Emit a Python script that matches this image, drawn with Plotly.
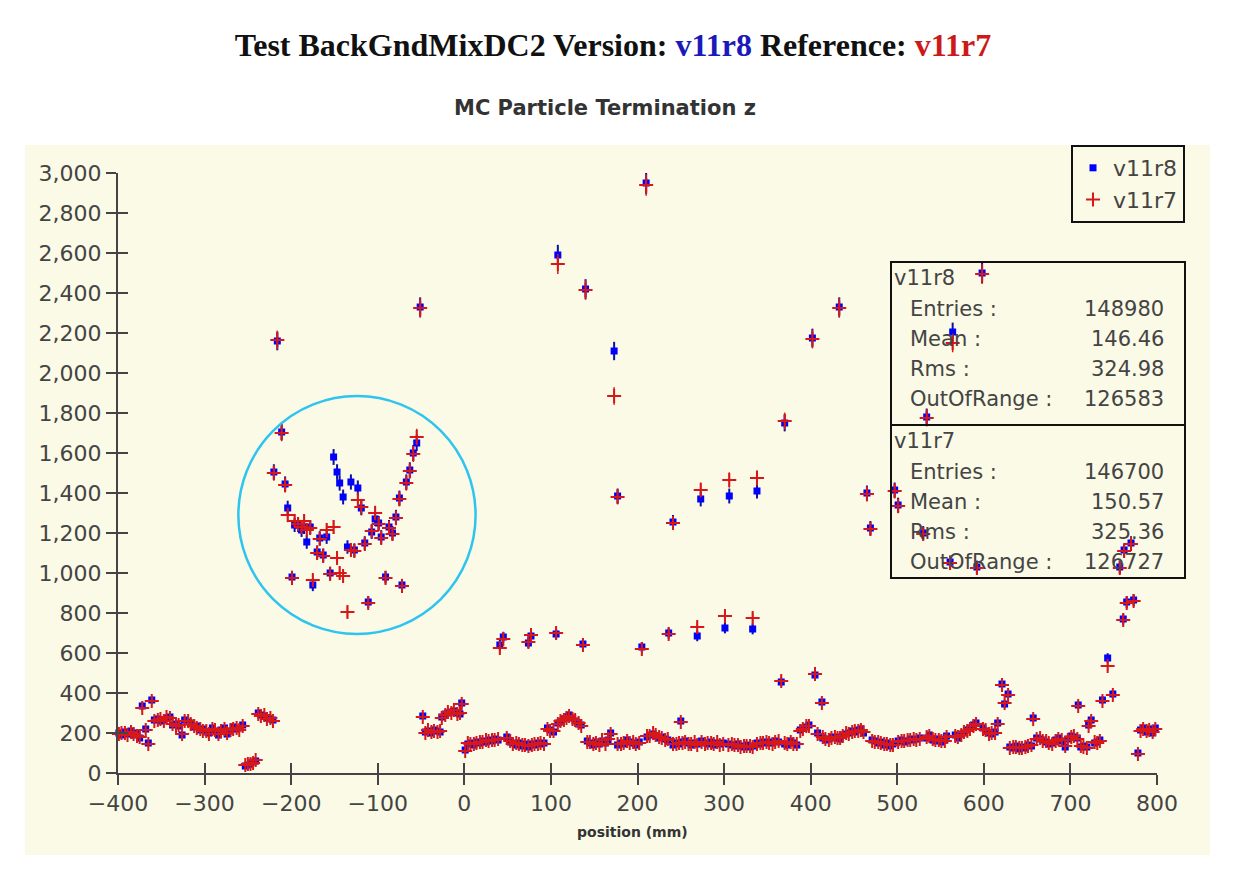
import plotly.graph_objects as go

# bottom band of bins: position (mm), counts for v11r8 / v11r7
band_pos = [
    -399, -396, -392, -389, -385, -382, -378, -375, -372, -368, -365, -361, -358, -354,
    -351, -347, -344, -340, -337, -333, -330, -326, -323, -319, -316, -312, -309, -305,
    -302, -298, -295, -291, -288, -284, -281, -277, -274, -270, -267, -263, -260, -256,
    -253, -250, -247, -244, -241, -238, -235, -231, -228, -224, -221,
    -48, -45, -42, -38, -35, -31, -28, -26, -22, -19, -15, -12, -8, -5, -3, 1,
    4, 7, 11, 14, 18, 21, 25, 28, 32, 35, 39, 49, 53, 56, 60, 63, 67, 70, 74, 78, 81, 85,
    88, 92, 96, 99, 103, 108, 111, 115, 118, 121, 125, 128, 132, 135, 142, 145, 149, 152,
    156, 159, 163, 166, 169, 177, 181, 184, 188, 191, 195, 198, 202, 211, 214, 218, 221,
    225, 228, 232, 235, 241, 245, 248, 250, 252, 255, 259, 262, 266, 269, 274, 278, 281,
    285, 288, 292, 295, 299, 305, 309, 312, 316, 319, 323, 326, 330, 333, 338, 342, 345,
    349, 352, 356, 359, 363, 370, 373, 377, 380, 384, 388, 391, 395, 398, 408, 414, 417,
    421, 424, 428, 431, 434, 437, 441, 444, 448, 451, 455, 458, 461, 471, 474, 478, 481,
    485, 488, 492, 495, 501, 505, 508, 512, 515, 519, 522, 526, 534, 537, 541, 544, 548,
    551, 555, 557, 567, 570, 574, 577, 581, 584, 588, 591, 599, 602, 606, 609, 613, 616,
    630, 634, 637, 641, 644, 648, 651, 655, 657, 661, 665, 668, 672, 675, 679, 683, 686,
    690, 694, 697, 701, 704, 708, 712, 715, 719, 721, 724, 728, 731, 734, 778, 781, 784,
    788, 791, 795, 798,
]
band_v11r8 = [
    200, 190, 205, 195, 210, 190, 200, 175, 335, 220, 150, 365, 265, 270,
    260, 265, 275, 280, 240, 245, 235, 190, 265, 255, 250, 230, 235, 215,
    220, 205, 200, 225, 210, 190, 215, 225, 195, 210, 230, 220, 225, 240,
    35, 40, 45, 55, 60, 300, 290, 285, 275, 270, 265,
    285, 205, 210, 200, 215, 210, 205, 280, 295, 300, 305, 310, 300, 295, 350, 115,
    145, 150, 140, 155, 150, 160, 155, 165, 160, 170, 165, 180, 155, 150, 140, 150, 135, 145, 130, 145, 140, 150,
    145, 150, 225, 215, 205, 250, 255, 270, 280, 290, 275, 260, 245, 240, 160, 150, 140, 155,
    145, 160, 150, 165, 200, 140, 150, 145, 165, 155, 150, 140, 155, 180, 190, 195, 185,
    175, 180, 170, 165, 140, 150, 145, 260, 155, 160, 150, 140, 150, 145, 160, 150, 145,
    155, 140, 150, 145, 150, 145, 140, 135, 145, 135, 130, 140, 130, 135, 150, 145, 155,
    150, 155, 150, 160, 155, 145, 140, 160, 150, 140, 215, 225, 230, 240, 200, 175, 165,
    170, 180, 175, 180, 170, 190, 195, 200, 210, 205, 215, 220, 200, 165, 160, 150, 155,
    140, 150, 135, 145, 160, 165, 155, 160, 170, 165, 170, 175, 175, 190, 165, 160, 170,
    155, 165, 185, 190, 175, 195, 200, 215, 225, 240, 250, 225, 210, 200, 195, 205, 250,
    130, 125, 135, 120, 130, 125, 140, 135, 275, 175, 170, 165, 155, 145, 150, 165, 175,
    160, 130, 170, 185, 180, 175, 130, 135, 130, 240, 265, 150, 155, 165, 100, 215, 225,
    205, 220, 200, 225,
]
band_v11r7 = [
    195, 200, 200, 190, 205, 195, 185, 180, 325, 215, 145, 360, 260, 265,
    270, 260, 280, 275, 245, 235, 240, 195, 260, 260, 245, 235, 225, 220,
    210, 210, 195, 220, 215, 195, 210, 220, 200, 215, 220, 225, 215, 235,
    40, 45, 45, 50, 65, 295, 285, 290, 270, 275, 260,
    280, 200, 215, 205, 210, 205, 210, 275, 290, 305, 300, 315, 295, 300, 345, 110,
    150, 145, 145, 150, 155, 155, 165, 160, 165, 165, 170, 175, 160, 145, 150, 145, 140, 140, 135, 140, 145, 145,
    150, 145, 220, 210, 210, 245, 260, 265, 275, 285, 270, 265, 250, 235, 155, 155, 145, 150,
    140, 165, 145, 170, 195, 145, 145, 150, 160, 150, 155, 145, 150, 185, 185, 200, 190,
    180, 175, 165, 170, 145, 145, 150, 255, 150, 155, 145, 145, 155, 140, 155, 145, 150,
    150, 145, 155, 140, 145, 140, 145, 140, 140, 130, 135, 135, 135, 130, 145, 150, 150,
    155, 150, 145, 155, 160, 150, 145, 155, 145, 145, 210, 220, 235, 235, 195, 180, 170,
    165, 175, 180, 175, 175, 185, 200, 195, 205, 210, 210, 215, 205, 160, 155, 155, 150,
    145, 145, 140, 140, 155, 160, 160, 165, 165, 170, 165, 170, 180, 185, 170, 165, 165,
    160, 160, 180, 185, 180, 190, 205, 210, 220, 235, 245, 220, 215, 195, 200, 200, 245,
    125, 130, 130, 125, 125, 130, 135, 140, 270, 170, 175, 160, 160, 150, 145, 160, 170,
    165, 135, 165, 180, 185, 170, 135, 130, 125, 235, 260, 155, 150, 160, 95, 210, 220,
    210, 215, 205, 220,
]

# bins standing out above the band
peak_pos = [
    -220, -216, -211, -207, -204, -199, -196, -192, -188, -185, -182, -178, -175, -170,
    -167, -163, -159, -155, -151, -147, -144, -140, -135, -131, -127, -123, -119, -115,
    -111, -107, -103, -99, -96, -91, -87, -83, -79, -75, -72, -67, -63, -59, -55, -51,
    41, 45, 74, 77, 106, 108, 137, 140, 173, 177, 205, 210, 236, 241, 269, 273, 301, 306,
    333, 338, 366, 370, 402, 405, 413, 433, 465, 469, 497, 501, 530, 534, 561, 564, 592,
    598, 621, 624, 628, 709, 737, 743, 749, 757, 761, 762, 765, 770, 773,
]
peak_v11r8 = [
    1505, 2160, 1705, 1445, 1325, 980, 1240, 1240, 1215, 1230, 1155, 1230, 940, 1105,
    1175, 1090, 1180, 1000, 1580, 1505, 1450, 1380, 1130, 1455, 1115, 1425, 1325, 1150,
    855, 1205, 1270, 1250, 1180, 980, 1230, 1200, 1280, 1375, 940, 1455, 1515, 1600, 1650, 2330,
    640, 680, 650, 685, 695, 2590, 645, 2420, 2110, 1385, 630, 2950, 700, 1255, 685, 1370, 725, 1385,
    720, 1410, 455, 1750, 2175, 490, 355, 2330, 1400, 1225, 1415, 1340, 1200, 1780, 1055, 2205, 1030,
    2500, 445, 345, 395, 340, 365, 575, 395, 1030, 770, 1115, 855, 1150, 865,
]
peak_v11r7 = [
    1500, 2165, 1700, 1440, 1290, 975, 1260, 1245, 1230, 1260, 1215, 1225, 965, 1100,
    1170, 1085, 1215, 995, 1230, 1075, 1000, 985, 805, 1115, 1110, 1365, 1330, 1145,
    850, 1210, 1300, 1245, 1175, 975, 1225, 1195, 1275, 1370, 935, 1450, 1510, 1595, 1680, 2325,
    625, 670, 655, 690, 700, 2545, 640, 2415, 1885, 1380, 620, 2940, 695, 1250, 730, 1415, 785, 1465,
    775, 1475, 460, 1760, 2170, 495, 350, 2325, 1395, 1220, 1410, 1335, 1195, 1775, 1050, 2150, 1025,
    2495, 440, 350, 390, 335, 360, 535, 390, 1025, 765, 1110, 850, 1145, 860,
]

stats_rows = ["Entries :", "Mean :", "Rms :", "OutOfRange :"]
stats_v11r8 = ["148980", "146.46", "324.98", "126583"]
stats_v11r7 = ["146700", "150.57", "325.36", "126727"]

pos = band_pos + peak_pos
v11r8 = band_v11r8 + peak_v11r8
v11r7 = band_v11r7 + peak_v11r7

CREAM = "#fafae6"
AXIS = "#444444"
OFF = 8  # page body margin around the figure
FW, FH = 1240 - 2 * OFF, 887 - 2 * OFF
L, T, W, H = 118 - OFF, 173 - OFF, 1039, 600


def px_x(px):
    # page pixel -> paper x
    return (px - OFF - L) / W


def px_y(py):
    # page pixel -> paper y
    return (T + H - (py - OFF)) / H


fig = go.Figure()

fig.add_trace(
    go.Scatter(
        x=pos,
        y=v11r8,
        mode="markers",
        name="v11r8",
        marker=dict(symbol="square", size=7, color="#0000ff"),
        error_y=dict(type="sqrt", color="#1010a0", thickness=2, width=0),
        cliponaxis=False,
    )
)

fig.add_trace(
    go.Scatter(
        x=pos,
        y=v11r7,
        mode="markers",
        name="v11r7",
        marker=dict(symbol="cross-thin", size=10, line=dict(color="#d81818", width=2)),
        error_y=dict(type="sqrt", color="#d81818", thickness=1.5, width=0),
        cliponaxis=False,
    )
)

# overlay axes give the ticks that cross the axis lines
fig.add_trace(
    go.Scatter(x=[None], y=[None], xaxis="x2", yaxis="y2",
               showlegend=False, hoverinfo="skip")
)

tick_font = dict(family="DejaVu Sans", size=22, color=AXIS)

fig.update_layout(
    width=FW,
    height=FH,
    margin=dict(l=L, r=FW - L - W, t=T, b=FH - T - H),
    paper_bgcolor="white",
    plot_bgcolor=CREAM,
    title=dict(
        text="Test BackGndMixDC2 Version: <span style='color:#1a1abb'>v11r8</span> "
             "Reference: <span style='color:#cc1a1a'>v11r7</span>",
        font=dict(family="Liberation Serif", size=32, color="#111111", weight="bold"),
        x=(613 - OFF) / FW, xanchor="center", xref="container",
        y=1 - (45 - OFF) / FH, yanchor="middle", yref="container",
    ),
    xaxis=dict(
        range=[-400, 800], dtick=100, showgrid=False, zeroline=False,
        showline=True, linecolor=AXIS, linewidth=2,
        ticks="outside", ticklen=10, tickwidth=2, tickcolor=AXIS,
        tickfont=tick_font,
    ),
    yaxis=dict(
        range=[0, 3000], dtick=200, tickformat=",", showgrid=False, zeroline=False,
        showline=True, linecolor=AXIS, linewidth=2,
        ticks="outside", ticklen=10, tickwidth=2, tickcolor=AXIS,
        tickfont=tick_font,
    ),
    xaxis2=dict(
        range=[-400, 800], dtick=100, overlaying="x", anchor="y2", side="bottom",
        showgrid=False, zeroline=False, showline=False, showticklabels=False,
        ticks="inside", ticklen=10, tickwidth=2, tickcolor=AXIS,
    ),
    yaxis2=dict(
        range=[0, 3000], dtick=200, overlaying="y", anchor="x2", side="left",
        showgrid=False, zeroline=False, showline=False, showticklabels=False,
        ticks="inside", ticklen=10, tickwidth=2, tickcolor=AXIS,
    ),
    legend=dict(
        x=px_x(1185), xanchor="right", y=px_y(145), yanchor="top",
        bgcolor=CREAM, bordercolor="#111111", borderwidth=2,
        font=dict(family="DejaVu Sans", size=22, color=AXIS),
    ),
    showlegend=True,
)

shapes = [
    # cream panel behind plot and labels
    dict(type="rect", xref="paper", yref="paper", layer="below",
         x0=px_x(25), x1=px_x(1210), y0=px_y(855), y1=px_y(145),
         fillcolor=CREAM, line=dict(width=0)),
    # highlighted region
    dict(type="circle", xref="x", yref="y", x0=-261, x1=13, y0=695, y1=1885,
         line=dict(color="#2ec4f0", width=2.5)),
    # statistics box
    dict(type="rect", xref="paper", yref="paper",
         x0=px_x(891), x1=px_x(1185), y0=px_y(578), y1=px_y(262),
         line=dict(color="#111111", width=2)),
    dict(type="line", xref="paper", yref="paper",
         x0=px_x(891), x1=px_x(1185), y0=px_y(425), y1=px_y(425),
         line=dict(color="#111111", width=2)),
]
fig.update_layout(shapes=shapes)

stat_font = dict(family="DejaVu Sans", size=21, color=AXIS)
annotations = [
    dict(text="MC Particle Termination z", xref="paper", yref="paper",
         x=px_x(605), y=px_y(108), yanchor="middle", showarrow=False,
         font=dict(family="DejaVu Sans", size=21, color="#333333", weight="bold")),
    dict(text="position (mm)", xref="paper", yref="paper",
         x=px_x(632), y=px_y(832), yanchor="middle", showarrow=False,
         font=dict(family="DejaVu Sans", size=14, color="#333333", weight="bold")),
]
for top, name, values in [(278, "v11r8", stats_v11r8), (441, "v11r7", stats_v11r7)]:
    annotations.append(dict(text=name, xref="paper", yref="paper",
                            x=px_x(892), y=px_y(top), xanchor="left", yanchor="middle",
                            showarrow=False, font=stat_font))
    for i, (label, val) in enumerate(zip(stats_rows, values)):
        row_y = px_y(top + 31 + 30 * i)
        annotations.append(dict(text=label, xref="paper", yref="paper",
                                x=px_x(908), y=row_y, xanchor="left", yanchor="middle",
                                showarrow=False, font=stat_font))
        annotations.append(dict(text=val, xref="paper", yref="paper",
                                x=px_x(1166), y=row_y, xanchor="right", yanchor="middle",
                                showarrow=False, font=stat_font))
fig.update_layout(annotations=annotations)

fig.write_html("out.html")
